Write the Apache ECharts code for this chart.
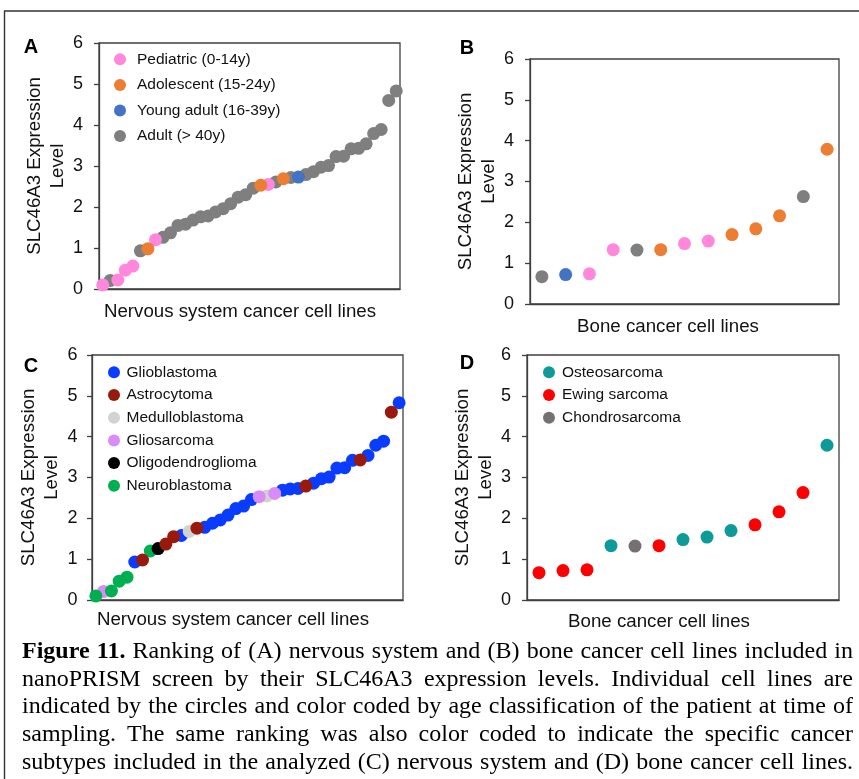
<!DOCTYPE html>
<html>
<head>
<meta charset="utf-8">
<title>Figure 11</title>
<script src="https://cdn.jsdelivr.net/npm/echarts@6/dist/echarts.min.js"></script>
<style>
  html, body { margin: 0; background: #fff; }
  #chart { width: 859px; height: 779px; }
</style>
</head>
<body>
<div id="chart"></div>
<script>
// ranked SLC46A3 expression, nervous system cell lines (panels A and C)
const nervousValues = [0.10, 0.21, 0.22, 0.46, 0.56, 0.93, 0.98, 1.20, 1.26, 1.37,
  1.55, 1.58, 1.68, 1.76, 1.78, 1.88, 1.96, 2.08, 2.24, 2.30,
  2.46, 2.53, 2.55, 2.61, 2.69, 2.72, 2.73, 2.79, 2.86, 2.97,
  3.01, 3.23, 3.24, 3.42, 3.43, 3.54, 3.79, 3.89, 4.60, 4.83]
const nervousAge = ['ped', 'adu', 'ped', 'ped', 'ped', 'adu', 'ado', 'ped', 'adu', 'adu',
  'adu', 'adu', 'adu', 'adu', 'adu', 'adu', 'adu', 'adu', 'adu', 'adu',
  'adu', 'ado', 'ped', 'adu', 'ado', 'adu', 'yad', 'adu', 'adu', 'adu',
  'adu', 'adu', 'adu', 'adu', 'adu', 'adu', 'adu', 'adu', 'adu', 'adu']
const nervousType = ['neu', 'gsa', 'neu', 'neu', 'neu', 'gbm', 'ast', 'neu', 'oli', 'ast',
  'ast', 'gbm', 'med', 'ast', 'gbm', 'gbm', 'gbm', 'gbm', 'gbm', 'gbm',
  'gbm', 'gsa', 'med', 'gsa', 'gbm', 'gbm', 'gbm', 'ast', 'gbm', 'gbm',
  'gbm', 'gbm', 'gbm', 'gbm', 'ast', 'gbm', 'gbm', 'gbm', 'ast', 'gbm']

// ranked SLC46A3 expression, bone cell lines (panels B and D)
const boneValues = [0.67, 0.72, 0.74, 1.33, 1.32, 1.33, 1.48, 1.54, 1.70, 1.84, 2.16, 2.63, 3.79]
const boneAge = ['adu', 'yad', 'ped', 'ped', 'adu', 'ado', 'ped', 'ped', 'ado', 'ado', 'ado', 'adu', 'ado']
const boneType = ['ews', 'ews', 'ews', 'ost', 'chs', 'ews', 'ost', 'ost', 'ost', 'ews', 'ews', 'ews', 'ost']

const yTicks = [0, 1, 2, 3, 4, 5, 6]

const ageNames = { ped: 'Pediatric (0-14y)', ado: 'Adolescent (15-24y)', yad: 'Young adult (16-39y)', adu: 'Adult (> 40y)' }
const nervousTypeNames = { gbm: 'Glioblastoma', ast: 'Astrocytoma', med: 'Medulloblastoma', gsa: 'Gliosarcoma', oli: 'Oligodendroglioma', neu: 'Neuroblastoma' }
const boneTypeNames = { ost: 'Osteosarcoma', ews: 'Ewing sarcoma', chs: 'Chondrosarcoma' }

const captionLines = [
  'Figure 11. Ranking of (A) nervous system and (B) bone cancer cell lines included in',
  'nanoPRISM screen by their SLC46A3 expression levels. Individual cell lines are',
  'indicated by the circles and color coded by age classification of the patient at time of',
  'sampling. The same ranking was also color coded to indicate the specific cancer',
  'subtypes included in the analyzed (C) nervous system and (D) bone cancer cell lines.'
]

const colors = {
  ped: '#ff88dc', ado: '#ed7d31', yad: '#4472c4', adu: '#7f7f7f',
  gbm: '#0a3cff', ast: '#991a0c', med: '#d2d2d2', gsa: '#d98cf7', oli: '#000000', neu: '#00b050',
  ost: '#0e9a98', ews: '#ff0000', chs: '#767171'
}

const SANS = 'Liberation Sans, Arial, sans-serif'
const LINE = '#3f3f3f'

// one scatter series per group, drawn through the category axis
function groupSeries (values, groups, keys, names, gridIdx) {
  return keys.map(k => ({
    type: 'scatter',
    name: names[k],
    xAxisIndex: gridIdx,
    yAxisIndex: gridIdx,
    symbol: 'circle',
    symbolSize: 13,
    itemStyle: { color: colors[k], opacity: 1 },
    data: values.map((v, i) => groups[i] === k ? [i, v] : null).filter(d => d)
  }))
}

const grids = [
  { left: 99, top: 43, width: 301, height: 246 },
  { left: 530, top: 59, width: 309, height: 245 },
  { left: 92, top: 355, width: 311, height: 245 },
  { left: 527, top: 355, width: 312, height: 245 }
].map(g => Object.assign(g, { show: true, borderColor: LINE, borderWidth: 1.3, backgroundColor: 'transparent', outerBoundsMode: 'none' }))

const xNames = [
  { name: 'Nervous system cancer cell lines', gap: 13, shift: 19, n: nervousValues.length },
  { name: 'Bone cancer cell lines', gap: 13.5, shift: 33, n: boneValues.length },
  { name: 'Nervous system cancer cell lines', gap: 10, shift: 29, n: nervousValues.length },
  { name: 'Bone cancer cell lines', gap: 12, shift: 48, n: boneValues.length }
]
const xAxes = xNames.map((o, i) => ({
  type: 'category',
  gridIndex: i,
  boundaryGap: true,
  data: Array.from({ length: o.n }, (_, k) => String(k + 1)),
  axisLine: { show: true, lineStyle: { color: LINE, width: 1.3 } },
  axisTick: { show: false },
  axisLabel: { show: false },
  splitLine: { show: false },
  name: o.name,
  nameLocation: 'middle',
  nameGap: o.gap,
  nameTextStyle: { fontFamily: SANS, fontSize: 18.7, color: '#111', padding: [0, o.shift, 0, 0] }
}))

const yGaps = [25, 29, 22, 27]
const yMargins = [16, 16, 14.5, 16]
const yAxes = yGaps.map((gap, i) => ({
  type: 'value',
  gridIndex: i,
  min: yTicks[0],
  max: yTicks[yTicks.length - 1],
  interval: 1,
  axisLine: { show: true, lineStyle: { color: LINE, width: 1.3 } },
  axisTick: { show: true, inside: false, length: 5, lineStyle: { color: LINE, width: 1.3 } },
  axisLabel: { fontFamily: SANS, fontSize: 18, color: '#111', margin: yMargins[i] },
  splitLine: { show: false },
  name: 'SLC46A3 Expression\nLevel',
  nameLocation: 'middle',
  nameRotate: 90,
  nameGap: gap,
  nameTextStyle: { fontFamily: SANS, fontSize: 18.7, lineHeight: 23, color: '#111', align: 'center' }
}))

const series = [].concat(
  groupSeries(nervousValues, nervousAge, ['adu', 'ped', 'ado', 'yad'], ageNames, 0),
  groupSeries(boneValues, boneAge, ['adu', 'ped', 'ado', 'yad'], ageNames, 1),
  groupSeries(nervousValues, nervousType, ['gbm', 'med', 'gsa', 'neu', 'oli', 'ast'], nervousTypeNames, 2),
  groupSeries(boneValues, boneType, ['ost', 'chs', 'ews'], boneTypeNames, 3)
)

function legendAt (left, top, gap, pad, names) {
  return {
    orient: 'vertical',
    left: left,
    top: top,
    padding: 0,
    itemGap: gap,
    itemWidth: 12,
    itemHeight: 12,
    icon: 'circle',
    selectedMode: false,
    textStyle: { fontFamily: SANS, fontSize: 15.5, lineHeight: 16, color: '#111', padding: [0, 0, 0, pad] },
    data: names
  }
}

const legends = [
  legendAt(114, 51.3, 9.6, 6, ['ped', 'ado', 'yad', 'adu'].map(k => ageNames[k])),
  legendAt(108, 364.3, 6.7, 1.5, ['gbm', 'ast', 'med', 'gsa', 'oli', 'neu'].map(k => nervousTypeNames[k])),
  legendAt(543, 364.3, 6.7, 2, ['ost', 'ews', 'chs'].map(k => boneTypeNames[k]))
]

// justified caption: each word placed on its own so lines fill the width
function captionGraphics () {
  const left = 22, right = 853, top = 652, lh = 27.6
  const ctx = document.createElement('canvas').getContext('2d')
  const out = []
  captionLines.forEach((line, li) => {
    const words = line.split(' ')
    const bold = words.map((w, wi) => li === 0 && wi < 2)
    const widths = words.map((w, wi) => {
      ctx.font = (bold[wi] ? 'bold ' : '') + '24px "Liberation Serif"'
      return ctx.measureText(w).width
    })
    const total = widths.reduce((a, b) => a + b, 0)
    const gap = (right - left - total) / (words.length - 1)
    let x = left
    words.forEach((w, wi) => {
      out.push({
        type: 'text', x: x, y: top + li * lh, silent: true,
        style: { text: w, fontFamily: 'Liberation Serif', fontSize: 24, fontWeight: bold[wi] ? 'bold' : 'normal', fill: '#000', verticalAlign: 'middle' }
      })
      x += widths[wi] + gap
    })
  })
  return out
}

const letters = [['A', 31, 47], ['B', 467, 48], ['C', 31, 366], ['D', 467, 363]].map(l => ({
  type: 'text', x: l[1], y: l[2], silent: true,
  style: { text: l[0], fontFamily: SANS, fontSize: 20, fontWeight: 'bold', fill: '#000', align: 'center', verticalAlign: 'middle' }
}))

const frame = [
  { type: 'line', silent: true, shape: { x1: 4, y1: 11, x2: 859, y2: 11 }, style: { stroke: '#333', lineWidth: 1.4 } },
  { type: 'line', silent: true, shape: { x1: 4.5, y1: 11, x2: 4.5, y2: 779 }, style: { stroke: '#333', lineWidth: 1.4 } }
]

const chart = echarts.init(document.getElementById('chart'), null, { renderer: 'canvas' })
chart.setOption({
  animation: false,
  backgroundColor: '#fff',
  tooltip: { show: false },
  grid: grids,
  xAxis: xAxes,
  yAxis: yAxes,
  legend: legends,
  series: series,
  graphic: [].concat(frame, letters, captionGraphics())
})
</script>
</body>
</html>
